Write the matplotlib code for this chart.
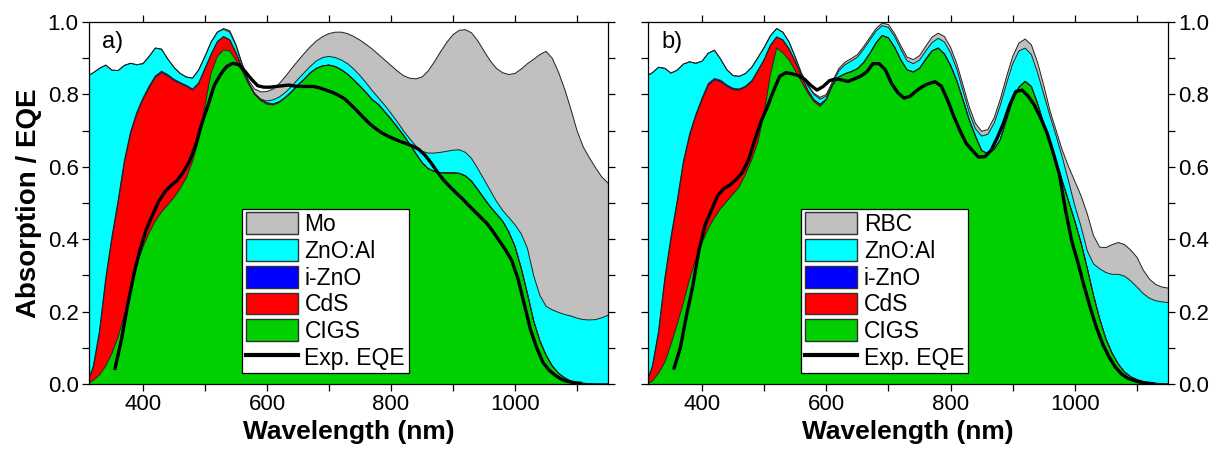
import matplotlib
matplotlib.use("Agg")
import matplotlib.pyplot as plt
import matplotlib.patches as mpatches
import matplotlib.lines as mlines
import numpy as np

plt.rcParams['font.family'] = ['Liberation Sans', 'DejaVu Sans']

# wavelength grid (nm) for the stacked absorption curves
wl = np.arange(310, 1151, 10)

# ---- panel a) : cumulative absorption ----
cigs_a = [0.0, 0.01, 0.025, 0.05, 0.085, 0.13, 0.19, 0.255, 0.33, 0.378,
          0.418, 0.45, 0.475, 0.495, 0.515, 0.54, 0.57, 0.615, 0.675, 0.77,
          0.86, 0.905, 0.923, 0.92, 0.895, 0.865, 0.83, 0.80, 0.783, 0.773,
          0.771, 0.778, 0.792, 0.808, 0.826, 0.842, 0.86, 0.872, 0.879, 0.881,
          0.877, 0.868, 0.856, 0.84, 0.823, 0.805, 0.785, 0.772, 0.752, 0.732,
          0.71, 0.688, 0.663, 0.637, 0.612, 0.595, 0.587, 0.584, 0.583, 0.583,
          0.582, 0.575, 0.56, 0.537, 0.513, 0.49, 0.47, 0.45, 0.42, 0.38,
          0.32, 0.25, 0.175, 0.12, 0.08, 0.05, 0.03, 0.017, 0.008, 0.004,
          0.002, 0.001, 0.0, 0.0, 0.0]
cds_a = [0.0, 0.045, 0.14, 0.285, 0.40, 0.50, 0.61, 0.69, 0.745, 0.785,
         0.818, 0.847, 0.86, 0.851, 0.838, 0.83, 0.822, 0.812, 0.83, 0.87,
         0.91, 0.945, 0.959, 0.95, 0.915, 0.872, 0.833, 0.802, 0.785, 0.776,
         0.773, 0.779, 0.792, 0.808, 0.826, 0.842, 0.86, 0.872, 0.879, 0.881,
         0.877, 0.868, 0.856, 0.84, 0.823, 0.805, 0.785, 0.772, 0.752, 0.732,
         0.71, 0.688, 0.663, 0.637, 0.612, 0.595, 0.587, 0.584, 0.583, 0.583,
         0.582, 0.575, 0.56, 0.537, 0.513, 0.49, 0.47, 0.45, 0.42, 0.38,
         0.32, 0.25, 0.175, 0.12, 0.08, 0.05, 0.03, 0.017, 0.008, 0.004,
         0.002, 0.001, 0.0, 0.0, 0.0]
izno_a = [0.0, 0.05, 0.147, 0.292, 0.407, 0.507, 0.616, 0.696, 0.75, 0.79,
          0.823, 0.851, 0.864, 0.855, 0.842, 0.833, 0.825, 0.815, 0.832, 0.872,
          0.911, 0.946, 0.96, 0.951, 0.916, 0.873, 0.834, 0.803, 0.786, 0.777,
          0.774, 0.78, 0.792, 0.808, 0.826, 0.842, 0.86, 0.872, 0.879, 0.881,
          0.877, 0.868, 0.856, 0.84, 0.823, 0.805, 0.785, 0.772, 0.752, 0.732,
          0.71, 0.688, 0.663, 0.637, 0.612, 0.595, 0.587, 0.584, 0.583, 0.583,
          0.582, 0.575, 0.56, 0.537, 0.513, 0.49, 0.47, 0.45, 0.42, 0.38,
          0.32, 0.25, 0.175, 0.12, 0.08, 0.05, 0.03, 0.017, 0.008, 0.004,
          0.002, 0.001, 0.0, 0.0, 0.0]
zno_a = [0.85, 0.86, 0.872, 0.881, 0.867, 0.866, 0.88, 0.886, 0.882, 0.885,
         0.905, 0.928, 0.925, 0.898, 0.875, 0.858, 0.848, 0.845, 0.868, 0.905,
         0.945, 0.972, 0.98, 0.972, 0.935, 0.88, 0.832, 0.802, 0.787, 0.782,
         0.785, 0.793, 0.806, 0.823, 0.842, 0.86, 0.878, 0.893, 0.902, 0.905,
         0.902, 0.895, 0.885, 0.87, 0.852, 0.832, 0.81, 0.79, 0.77, 0.748,
         0.725, 0.70, 0.678, 0.658, 0.643, 0.638, 0.638, 0.64, 0.643, 0.646,
         0.647, 0.64, 0.623, 0.595, 0.565, 0.535, 0.505, 0.48, 0.46, 0.44,
         0.415, 0.375, 0.30, 0.245, 0.215, 0.205, 0.198, 0.192, 0.188, 0.182,
         0.178, 0.177, 0.178, 0.183, 0.19]
mo_a = [0.85, 0.86, 0.872, 0.881, 0.867, 0.866, 0.88, 0.886, 0.882, 0.885,
        0.905, 0.928, 0.925, 0.898, 0.875, 0.858, 0.848, 0.845, 0.868, 0.905,
        0.945, 0.972, 0.982, 0.976, 0.938, 0.885, 0.84, 0.815, 0.807, 0.808,
        0.815, 0.83, 0.85, 0.872, 0.893, 0.913, 0.932, 0.948, 0.96, 0.968,
        0.972, 0.972, 0.968, 0.96, 0.95, 0.938, 0.925, 0.91, 0.895, 0.88,
        0.865, 0.852, 0.845, 0.843, 0.848, 0.865, 0.89, 0.918, 0.944, 0.965,
        0.977, 0.979, 0.97, 0.948, 0.92, 0.893, 0.872, 0.86, 0.855, 0.858,
        0.87, 0.885, 0.897, 0.91, 0.919, 0.9, 0.862, 0.815, 0.76, 0.70,
        0.655, 0.625, 0.597, 0.572, 0.555]

eqe_wl_a = np.arange(355, 1106, 10)
eqe_a = [0.043, 0.12, 0.215, 0.30, 0.37, 0.425, 0.465, 0.503, 0.53, 0.548,
         0.562, 0.585, 0.615, 0.66, 0.72, 0.77, 0.825, 0.855, 0.877, 0.886,
         0.882, 0.863, 0.842, 0.824, 0.82, 0.82, 0.822, 0.824, 0.826, 0.823,
         0.822, 0.822, 0.822, 0.818, 0.812, 0.806, 0.798, 0.788, 0.772, 0.755,
         0.737, 0.72, 0.706, 0.694, 0.685, 0.677, 0.67, 0.664, 0.657, 0.648,
         0.632, 0.61, 0.585, 0.563, 0.545, 0.528, 0.512, 0.494, 0.477, 0.46,
         0.443, 0.42, 0.395, 0.37, 0.34, 0.29, 0.22, 0.15, 0.10, 0.06,
         0.038, 0.024, 0.013, 0.007, 0.004, 0.002]

# ---- panel b) ----
cigs_b = [0.0, 0.008, 0.03, 0.06, 0.11, 0.165, 0.225, 0.29, 0.345, 0.39,
          0.43, 0.46, 0.485, 0.505, 0.525, 0.545, 0.58, 0.62, 0.67, 0.75,
          0.855, 0.928, 0.915, 0.895, 0.866, 0.835, 0.805, 0.78, 0.767, 0.785,
          0.826, 0.848, 0.857, 0.863, 0.871, 0.888, 0.913, 0.942, 0.963, 0.956,
          0.93, 0.895, 0.868, 0.862, 0.872, 0.897, 0.92, 0.928, 0.912, 0.88,
          0.838, 0.785, 0.73, 0.685, 0.645, 0.636, 0.648, 0.675, 0.73, 0.785,
          0.82, 0.836, 0.822, 0.775, 0.72, 0.67, 0.615, 0.56, 0.505, 0.45,
          0.39, 0.32, 0.245, 0.18, 0.125, 0.085, 0.055, 0.033, 0.02, 0.012,
          0.007, 0.004, 0.002, 0.001, 0.0]
cds_b = [0.0, 0.045, 0.14, 0.285, 0.40, 0.50, 0.61, 0.685, 0.74, 0.785,
         0.825, 0.84, 0.835, 0.822, 0.813, 0.812, 0.82, 0.835, 0.865, 0.895,
         0.935, 0.958, 0.95, 0.925, 0.89, 0.85, 0.812, 0.785, 0.772, 0.787,
         0.826, 0.848, 0.857, 0.863, 0.871, 0.888, 0.913, 0.942, 0.963, 0.956,
         0.93, 0.895, 0.868, 0.862, 0.872, 0.897, 0.92, 0.928, 0.912, 0.88,
         0.838, 0.785, 0.73, 0.685, 0.645, 0.636, 0.648, 0.675, 0.73, 0.785,
         0.82, 0.836, 0.822, 0.775, 0.72, 0.67, 0.615, 0.56, 0.505, 0.45,
         0.39, 0.32, 0.245, 0.18, 0.125, 0.085, 0.055, 0.033, 0.02, 0.012,
         0.007, 0.004, 0.002, 0.001, 0.0]
izno_b = [0.0, 0.05, 0.147, 0.292, 0.407, 0.507, 0.616, 0.691, 0.745, 0.79,
          0.83, 0.844, 0.839, 0.826, 0.817, 0.815, 0.823, 0.838, 0.867, 0.897,
          0.936, 0.959, 0.951, 0.926, 0.891, 0.851, 0.813, 0.786, 0.773, 0.787,
          0.826, 0.848, 0.857, 0.863, 0.871, 0.888, 0.913, 0.942, 0.963, 0.956,
          0.93, 0.895, 0.868, 0.862, 0.872, 0.897, 0.92, 0.928, 0.912, 0.88,
          0.838, 0.785, 0.73, 0.685, 0.645, 0.636, 0.648, 0.675, 0.73, 0.785,
          0.82, 0.836, 0.822, 0.775, 0.72, 0.67, 0.615, 0.56, 0.505, 0.45,
          0.39, 0.32, 0.245, 0.18, 0.125, 0.085, 0.055, 0.033, 0.02, 0.012,
          0.007, 0.004, 0.002, 0.001, 0.0]
zno_b = [0.85, 0.86, 0.875, 0.872, 0.859, 0.867, 0.884, 0.89, 0.886, 0.892,
         0.914, 0.922, 0.897, 0.868, 0.852, 0.85, 0.858, 0.875, 0.902, 0.93,
         0.962, 0.982, 0.972, 0.945, 0.903, 0.858, 0.825, 0.80, 0.787, 0.795,
         0.83, 0.865, 0.882, 0.892, 0.903, 0.925, 0.95, 0.975, 0.99, 0.985,
         0.96, 0.925, 0.893, 0.885, 0.895, 0.92, 0.943, 0.955, 0.945, 0.915,
         0.87, 0.81, 0.75, 0.705, 0.685, 0.69, 0.72, 0.77, 0.83, 0.885,
         0.92, 0.928, 0.91, 0.86, 0.80, 0.74, 0.685, 0.625, 0.56, 0.492,
         0.435, 0.368, 0.332, 0.318, 0.308, 0.303, 0.303, 0.298, 0.285, 0.268,
         0.25, 0.237, 0.23, 0.227, 0.225]
rbc_b = [0.85, 0.86, 0.875, 0.872, 0.859, 0.867, 0.884, 0.89, 0.886, 0.892,
         0.914, 0.922, 0.897, 0.868, 0.852, 0.85, 0.858, 0.875, 0.902, 0.93,
         0.962, 0.982, 0.972, 0.945, 0.903, 0.858, 0.826, 0.803, 0.792, 0.80,
         0.836, 0.871, 0.889, 0.899, 0.91, 0.932, 0.957, 0.982, 0.997, 0.993,
         0.968, 0.934, 0.903, 0.896, 0.907, 0.933, 0.958, 0.969, 0.96, 0.93,
         0.885, 0.826, 0.766, 0.72, 0.698, 0.703, 0.735, 0.787, 0.849, 0.905,
         0.942, 0.953, 0.937, 0.888, 0.825, 0.755, 0.70, 0.645, 0.60, 0.56,
         0.52, 0.47, 0.41, 0.378, 0.377, 0.385, 0.391, 0.385, 0.37, 0.35,
         0.315, 0.29, 0.275, 0.268, 0.265]

eqe_wl_b = np.arange(355, 1126, 10)
eqe_b = [0.044, 0.10, 0.19, 0.27, 0.37, 0.44, 0.48, 0.52, 0.54, 0.55,
         0.565, 0.585, 0.62, 0.675, 0.726, 0.765, 0.81, 0.85, 0.86, 0.857,
         0.852, 0.842, 0.825, 0.812, 0.822, 0.838, 0.843, 0.84, 0.836, 0.843,
         0.85, 0.862, 0.885, 0.885, 0.868, 0.83, 0.805, 0.79, 0.795, 0.81,
         0.822, 0.83, 0.835, 0.823, 0.785, 0.74, 0.70, 0.665, 0.645, 0.627,
         0.628, 0.645, 0.68, 0.72, 0.77, 0.808, 0.812, 0.795, 0.77, 0.735,
         0.695, 0.64, 0.58, 0.48, 0.395, 0.335, 0.27, 0.21, 0.155, 0.11,
         0.075, 0.047, 0.028, 0.016, 0.01, 0.005, 0.002, 0.001]

colors = ['#00D000', '#FF0000', '#0000FF', '#00FFFF', '#C0C0C0']


def draw_panel(ax, tops, labels, eqe_wl, eqe, tag):
    bottom = np.zeros(len(wl))
    for top, c in zip(tops, colors):
        top = np.asarray(top)
        ax.fill_between(wl, bottom, top, facecolor=c, linewidth=0)
        bottom = top
    for top in tops:
        ax.plot(wl, top, color='#202020', lw=0.7)
    ax.plot(eqe_wl, eqe, color='black', lw=2.4, zorder=5)

    ax.set_xlim(313, 1150)
    ax.set_ylim(0, 1.0)
    ax.set_xticks([400, 600, 800, 1000])
    ax.set_xticks([500, 700, 900, 1100], minor=True)
    ax.set_yticks([0.0, 0.2, 0.4, 0.6, 0.8, 1.0])
    ax.set_yticks([0.1, 0.3, 0.5, 0.7, 0.9], minor=True)
    ax.tick_params(which='both', direction='out', length=5, width=0.9,
                   top=True, right=True, labelsize=16, pad=2.5)
    for s in ax.spines.values():
        s.set_linewidth(0.9)
    ax.set_xlabel('Wavelength (nm)', fontsize=19, fontweight='bold', labelpad=3)
    ax.text(0.025, 0.975, tag, transform=ax.transAxes, va='top', ha='left',
            fontsize=17)

    handles = [mpatches.Patch(facecolor=c, edgecolor='#303030', linewidth=1.0)
               for c in colors[::-1]]
    handles.append(mlines.Line2D([], [], color='black', lw=3))
    leg = ax.legend(handles, labels, loc='lower left',
                    bbox_to_anchor=(0.295, 0.03), fontsize=16.5,
                    frameon=True, fancybox=False, edgecolor='black',
                    framealpha=1, borderpad=0.15, labelspacing=0.13,
                    handlelength=2.27, handleheight=1.09, handletextpad=0.3,
                    borderaxespad=0)
    leg.get_frame().set_linewidth(0.9)


fig = plt.figure(figsize=(12.19, 4.55), dpi=100)
ax1 = fig.add_axes([0.0730, 0.156, 0.4258, 0.7956])
ax2 = fig.add_axes([0.5316, 0.156, 0.4266, 0.7956])

draw_panel(ax1, [cigs_a, cds_a, izno_a, zno_a, mo_a],
           ['Mo', 'ZnO:Al', 'i-ZnO', 'CdS', 'CIGS', 'Exp. EQE'],
           eqe_wl_a, eqe_a, 'a)')
draw_panel(ax2, [cigs_b, cds_b, izno_b, zno_b, rbc_b],
           ['RBC', 'ZnO:Al', 'i-ZnO', 'CdS', 'CIGS', 'Exp. EQE'],
           eqe_wl_b, eqe_b, 'b)')

ax1.yaxis.set_major_formatter(plt.FormatStrFormatter('%.1f'))
ax1.set_ylabel('Absorption / EQE', fontsize=20, fontweight='bold', labelpad=4)
ax2.yaxis.set_major_formatter(plt.FormatStrFormatter('%.1f'))
ax2.tick_params(labelleft=False, labelright=True)

fig.savefig('out.png', dpi=100)
